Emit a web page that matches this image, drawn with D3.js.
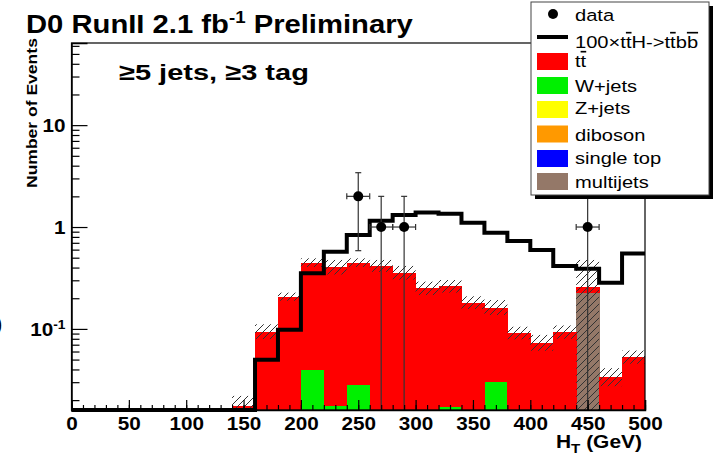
<!DOCTYPE html>
<html><head><meta charset="utf-8">
<script src="https://cdn.jsdelivr.net/npm/d3@7"></script>
<style>
body{margin:0;background:#fff}
svg{display:block}
text{font-family:"Liberation Sans",Arial,Helvetica,sans-serif}
</style>
</head><body>
<svg id="c" width="714" height="453"></svg>
<script>
// ---------- data ----------
const binWidth = 20;
const binLow    = [140,160,180,200,220,240,260,280,300,320,340,360,380,400,420,440,460,480];
const ttbar     = [0.0176,0.094,0.207,0.407,0.385,0.419,0.415,0.356,0.25,0.245,0.181,0.132,0.091,0.073,0.093,0.033,0.0336,0.0528];
const wjets     = [0,0,0,0.0396,0.0176,0.0283,0,0,0,0.0173,0,0.030,0,0,0,0,0,0];
const zjets     = [0,0,0,0,0,0,0,0,0,0,0,0,0,0,0,0,0,0];
const diboson   = [0,0,0,0,0,0,0,0,0,0,0,0,0,0,0,0,0,0];
const singleTop = [0,0,0,0,0,0,0,0,0,0,0,0,0,0,0,0,0,0];
const multijets = [0,0,0,0,0,0,0,0,0,0,0,0,0,0,0,0.227,0,0];
const bandUp    = [0.022,0.111,0.227,0.493,0.475,0.493,0.475,0.415,0.291,0.302,0.209,0.192,0.105,0.0873,0.108,0.475,0.0412,0.0613];
const bandLow   = [0.0141,0.0796,0.189,0.405,0.342,0.405,0.363,0.305,0.215,0.227,0.157,0.137,0.079,0.061,0.080,0.001,0.0274,0.0455];

const ttHLow = [0,20,40,60,80,100,120,140,160,180,200,220,240,260,280,300,320,340,360,380,400,420,440,460,480];
const ttH    = [0,0,0,0,0,0,0,0,0.0497,0.098,0.352,0.573,0.835,1.15,1.31,1.39,1.35,1.10,0.88,0.73,0.595,0.415,0.39,0.284,0.55];

const dataX    = [250,270,290,450];
const dataY    = [2,1,1,1];
const dataErr  = [1.414,1,1,1];
const dataXErr = [10,10,10,10];

const xTicksMajor = [0,50,100,150,200,250,300,350,400,450,500];
const yTicksMajor = [0.1,1,10];
const yTickLabels = [["10","-1"],["1",""],["10",""]];

const legendItems = [
  {label:"data", type:"marker"},
  {label:"100×t|t̄|H->t|t̄|b|b̄", type:"line"},
  {label:"t|t̄", type:"box", color:"#ff0000"},
  {label:"W+jets", type:"box", color:"#00f000"},
  {label:"Z+jets", type:"box", color:"#ffff00"},
  {label:"diboson", type:"box", color:"#ff9900"},
  {label:"single top", type:"box", color:"#0000ff"},
  {label:"multijets", type:"box", color:"#947868"}
];
const stackKeys   = ["multijets","singleTop","diboson","zjets","wjets","ttbar"];
const stackColors = {multijets:"#947868",singleTop:"#0000ff",diboson:"#ff9900",zjets:"#ffff00",wjets:"#00f000",ttbar:"#ff0000"};

// ---------- layout ----------
const L = 71.5, R = 645, T = 43, B = 410;
const svg = d3.select("#c");
const x = d3.scaleLinear().domain([0,500]).range([L,R]);
const y = d3.scaleLog().domain([0.016,64]).range([B,T]).clamp(true);

const defs = svg.append("defs");
const pat = defs.append("pattern").attr("id","hatch").attr("patternUnits","userSpaceOnUse")
  .attr("width",7).attr("height",7);
pat.append("path").attr("d","M-1,1 l2,-2 M0,7 l7,-7 M6,8 l2,-2")
  .attr("stroke","#333").attr("stroke-width",1);
defs.append("clipPath").attr("id","frame").append("rect")
  .attr("x",L).attr("y",T).attr("width",R-L).attr("height",B-T);

const plot = svg.append("g").attr("clip-path","url(#frame)");

// stacked bars
const table = binLow.map((lo,i)=>({lo, ttbar:ttbar[i], wjets:wjets[i], zjets:zjets[i],
  diboson:diboson[i], singleTop:singleTop[i], multijets:multijets[i]}));
const stacked = d3.stack().keys(stackKeys)(table);
stacked.forEach(layer=>{
  plot.append("g").attr("shape-rendering","crispEdges")
    .selectAll("rect").data(layer.filter(d=>d[1]-d[0]>0)).join("rect")
    .attr("x",d=>x(d.data.lo)).attr("width",d=>x(d.data.lo+binWidth)-x(d.data.lo)+0.5)
    .attr("y",d=>y(d[1])).attr("height",d=>y(Math.max(d[0],1e-6))-y(d[1]))
    .attr("fill",stackColors[layer.key]);
});
// hatched uncertainty band
plot.append("g").selectAll("rect").data(binLow).join("rect")
  .attr("x",(d)=>x(d)).attr("width",d=>x(d+binWidth)-x(d))
  .attr("y",(d,i)=>y(bandUp[i])).attr("height",(d,i)=>y(bandLow[i])-y(bandUp[i]))
  .attr("fill","url(#hatch)");

// ttH step line
const pts = [];
ttHLow.forEach((lo,i)=>{ pts.push([x(lo),y(ttH[i])]); pts.push([x(lo+binWidth),y(ttH[i])]); });
svg.append("path").attr("d",d3.line()(pts)).attr("fill","none")
  .attr("stroke","#000").attr("stroke-width",4).attr("stroke-linejoin","miter");

// data points with error bars
const dg = svg.append("g").attr("stroke","#333").attr("stroke-width",1.2);
dataX.forEach((dx,i)=>{
  const cx = x(dx), cy = y(dataY[i]);
  const yHi = y(dataY[i]+dataErr[i]), yLo = y(Math.max(dataY[i]-dataErr[i],0));
  const xl = x(dx-dataXErr[i]), xr = x(dx+dataXErr[i]);
  dg.append("line").attr("x1",cx).attr("x2",cx).attr("y1",yHi).attr("y2",yLo);
  dg.append("line").attr("x1",xl).attr("x2",xr).attr("y1",cy).attr("y2",cy);
  dg.append("line").attr("x1",cx-3).attr("x2",cx+3).attr("y1",yHi).attr("y2",yHi);
  if (yLo < B-1) dg.append("line").attr("x1",cx-3).attr("x2",cx+3).attr("y1",yLo).attr("y2",yLo);
  dg.append("line").attr("x1",xl).attr("x2",xl).attr("y1",cy-3).attr("y2",cy+3);
  dg.append("line").attr("x1",xr).attr("x2",xr).attr("y1",cy-3).attr("y2",cy+3);
  svg.append("circle").attr("cx",cx).attr("cy",cy).attr("r",5).attr("fill","#000");
});

// frame
svg.append("rect").attr("x",L).attr("y",T).attr("width",R-L).attr("height",B-T)
  .attr("fill","none").attr("stroke","#000").attr("stroke-width",1.2);

// x axis
const xMinor = d3.range(0,501,10);
svg.append("g").attr("transform",`translate(0,${B})`)
  .call(d3.axisBottom(x).tickValues(xMinor).tickSize(-5).tickFormat(""))
  .call(g=>{g.select(".domain").remove(); g.selectAll("line").attr("stroke-width",1.2);});
svg.append("g").attr("transform",`translate(0,${B})`)
  .call(d3.axisBottom(x).tickValues(xTicksMajor).tickSize(-10).tickFormat(d3.format("d")))
  .call(g=>{g.select(".domain").attr("stroke-width",1.5);
    g.selectAll("line").attr("stroke-width",1.2);
    g.selectAll("text").attr("y",20).attr("dy",0).attr("fill","#000")
     .attr("font-size",18).attr("font-weight","bold")
     .attr("font-family","Liberation Sans, Arial, sans-serif")
     .attr("transform","scale(1.15,1)");});

// y axis
const yMinor = [];
[0.01,0.1,1,10].forEach(dec=>{ for(let k=2;k<=9;k++){ const v=dec*k; if(v>0.016 && v<64) yMinor.push(v);} });
svg.append("g").attr("transform",`translate(${L},0)`)
  .call(d3.axisLeft(y).tickValues(yMinor).tickSize(-8).tickFormat(""))
  .call(g=>{g.select(".domain").remove(); g.selectAll("line").attr("stroke-width",1.2);});
const ya = svg.append("g").attr("transform",`translate(${L},0)`)
  .call(d3.axisLeft(y).tickValues(yTicksMajor).tickSize(-16).tickFormat(""))
  .call(g=>{g.select(".domain").attr("stroke-width",1.5); g.selectAll("line").attr("stroke-width",1.2);});
ya.selectAll(".tick").each(function(d,i){
  const t = d3.select(this).append("text").attr("x",0).attr("y",0).attr("dy","0.36em")
    .attr("text-anchor","end").attr("fill","#000").attr("font-size",18).attr("font-weight","bold")
    .attr("transform","translate(-6,0) scale(1.15,1)");
  t.append("tspan").text(yTickLabels[i][0]);
  if (yTickLabels[i][1]) t.append("tspan").attr("dy",-7).attr("font-size",12).text(yTickLabels[i][1]);
});

// ---------- texts ----------
function fit(sel, x0, yb, width){
  const w = sel.node().getBBox().width;
  sel.attr("transform",`translate(${x0},${yb}) scale(${width/w},1)`);
}
const title = svg.append("text").attr("font-size",25).attr("font-weight","bold").attr("fill","#000");
title.append("tspan").text("D0 RunII 2.1 fb");
title.append("tspan").attr("dy",-10).attr("font-size",16).text("-1");
title.append("tspan").attr("dy",10).text(" Preliminary");
fit(title, 26, 33, 387);

const sub = svg.append("text").attr("font-size",23).attr("font-weight","bold").attr("fill","#000")
  .text("≥5 jets, ≥3 tag");
fit(sub, 119, 80, 190);

const xt = svg.append("text").attr("font-size",18).attr("font-weight","bold").attr("fill","#000");
xt.append("tspan").text("H");
xt.append("tspan").attr("dy",5).attr("font-size",13).text("T");
xt.append("tspan").attr("dy",-5).text(" (GeV)");
fit(xt, 556, 448, 86);

const yt = svg.append("text").attr("font-size",15.5).attr("font-weight","bold").attr("fill","#000")
  .attr("text-anchor","start").text("Number of Events");
{ const w = yt.node().getBBox().width;
  yt.attr("transform",`translate(37,188) rotate(-90) scale(${150/w},1)`); }

svg.append("text").attr("x",-4).attr("y",330).attr("font-size",18).attr("font-weight","bold").text(")");

// ---------- legend ----------
const lg = svg.append("g");
lg.append("rect").attr("x",535).attr("y",6).attr("width",178).attr("height",193).attr("fill","#000");
lg.append("rect").attr("x",531).attr("y",2).attr("width",178).attr("height",193)
  .attr("fill","#fff").attr("stroke","#444").attr("stroke-width",1);
const rowY   = [14,37,61.5,85.5,109.5,134,158.5,181.5];
const baseY  = [20.7,48,67,91.5,113.5,140.5,164,187.5];
legendItems.forEach((it,i)=>{
  if (it.type==="marker") lg.append("circle").attr("cx",553).attr("cy",rowY[i]).attr("r",5).attr("fill","#000");
  if (it.type==="line") lg.append("line").attr("x1",537).attr("x2",568).attr("y1",rowY[i]).attr("y2",rowY[i])
     .attr("stroke","#000").attr("stroke-width",4);
  if (it.type==="box") lg.append("rect").attr("x",537).attr("y",rowY[i]-8.5).attr("width",31).attr("height",17)
     .attr("fill",it.color);
  const t = lg.append("text").attr("font-size",16.5).attr("fill","#000")
    .attr("transform",`translate(575,${baseY[i]}) scale(1.22,1)`);
  it.label.split("|").forEach(part=>{
    if (part.length===2 && part[1]==="\u0304") {
      t.append("tspan").style("text-decoration","overline").text(part[0]);
    } else t.append("tspan").text(part);
  });
});
</script>
</body></html>
